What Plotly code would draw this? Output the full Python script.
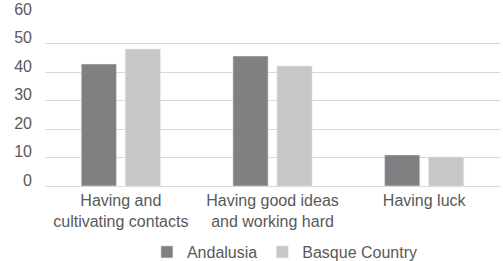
import plotly.graph_objects as go

categories = ["Having and<br>cultivating contacts", "Having good ideas<br>and working hard", "Having luck"]
andalusia = [42.8, 45.6, 10.9]
basque = [48.1, 42.1, 10.2]
y_ticks = [0, 10, 20, 30, 40, 50, 60]

font = dict(family="Liberation Sans, Arial, Helvetica, sans-serif", size=16, color="#595959")

fig = go.Figure()
fig.add_trace(go.Bar(name="Andalusia", x=categories, y=andalusia, marker_color="#808083"))
fig.add_trace(go.Bar(name="Basque Country", x=categories, y=basque, marker_color="#c6c7c9"))

fig.update_layout(
    width=503, height=261,
    margin=dict(l=45, r=3, t=15, b=75, autoexpand=False),
    paper_bgcolor="white", plot_bgcolor="white",
    font=font,
    barmode="group", bargap=0.42, bargroupgap=0.2,
    showlegend=True,
    legend=dict(orientation="h", x=0.224, xanchor="left", y=-0.386, yanchor="middle",
                font=font, itemwidth=30, traceorder="normal"),
)
fig.update_yaxes(range=[0, 60], tickvals=y_ticks, showgrid=True, gridcolor="#d9d9d9",
                 gridwidth=1, zeroline=False, showline=False, ticks="",
                 ticklabelstandoff=12, ticklabelshift=-6, tickfont=font)
fig.update_xaxes(showline=True, linecolor="#d9d9d9", linewidth=1, ticks="", tickfont=font)

fig.write_html("out.html", config={"displayModeBar": False},
               post_script="document.body.style.margin='0';")
